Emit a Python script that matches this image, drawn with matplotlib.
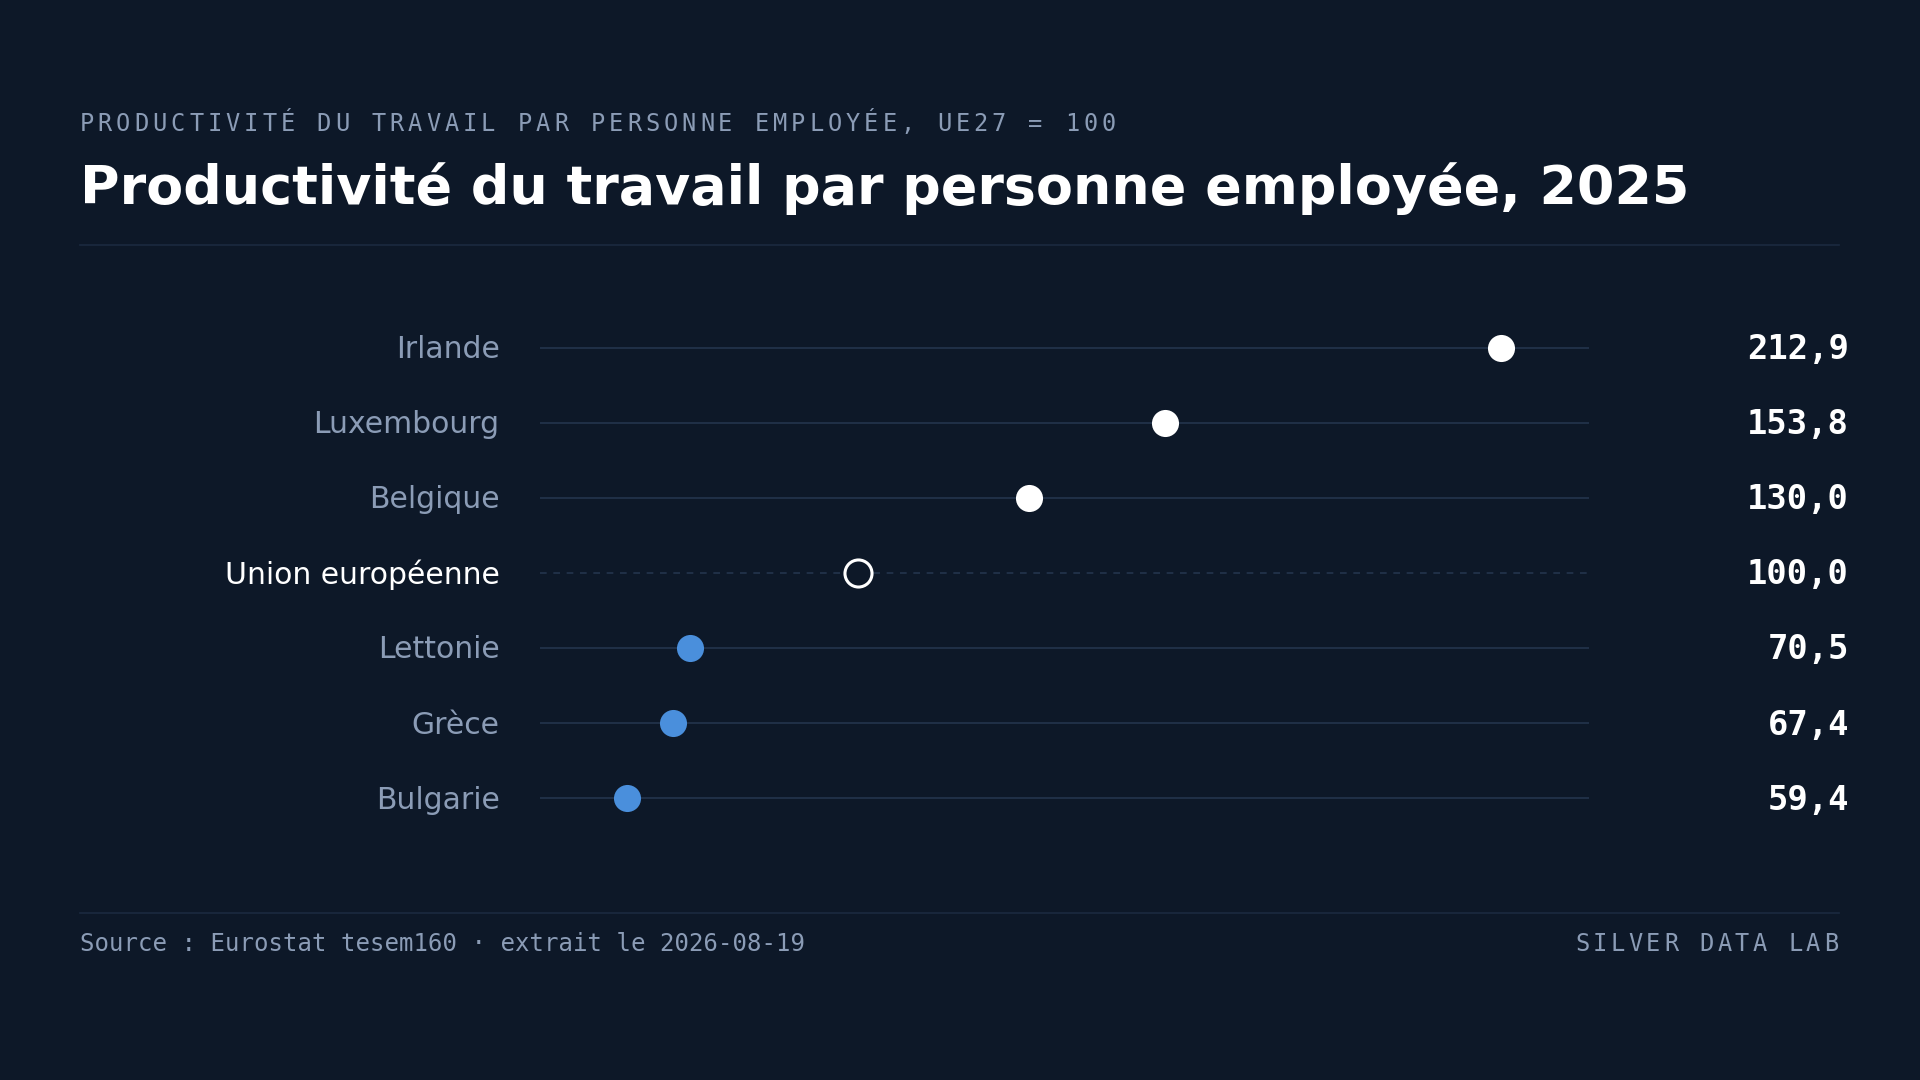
import matplotlib
matplotlib.use("Agg")
import matplotlib.pyplot as plt
from matplotlib.lines import Line2D

countries = ["Irlande", "Luxembourg", "Belgique", "Union européenne", "Lettonie", "Grèce", "Bulgarie"]
values = [212.9, 153.8, 130.0, 100.0, 70.5, 67.4, 59.4]
value_labels = ["212,9", "153,8", "130,0", "100,0", "70,5", "67,4", "59,4"]

BG = "#0d1828"
GRID = "#23344d"
MUTED = "#8b9cb6"
BLUE = "#4a8fdc"

W, H = 1568, 882
fig = plt.figure(figsize=(19.2, 10.8), dpi=100, facecolor=BG)
def fx(x): return x / W
def fy(y): return 1 - y / H

def spaced(text, x, y, step, align="left", **kw):
    nch = len(text)
    for i, ch in enumerate(text):
        if align == "left":
            xi = x + i * step
        else:
            xi = x - (nch - 1 - i) * step
        fig.text(fx(xi), fy(y), ch, ha="left" if align == "left" else "right",
                 va="center", **kw)

ax = fig.add_axes([fx(441), fy(682), fx(1298) - fx(441), fy(254) - fy(682)])
ax.set_facecolor(BG)
ax.set_xlim(44.1, 228.4)
n = len(countries)
ax.set_ylim(n - 0.5, -0.5)
ax.axis("off")

for i, (c, v, lab) in enumerate(zip(countries, values, value_labels)):
    eu = c == "Union européenne"
    ax.axhline(i, color=GRID, lw=1.2, ls=(0, (4, 4)) if eu else "-", zorder=1)
    if eu:
        ax.scatter([v], [i], s=380, facecolor=BG, edgecolor="white", lw=2.2, zorder=3)
    else:
        col = "white" if v > 100 else BLUE
        ax.scatter([v], [i], s=380, color=col, zorder=3, lw=0)
    yy = fy(285.5 + i * 61.33)
    fig.text(fx(408), yy, c, ha="right", va="center", fontsize=21.5,
             color="white" if eu else MUTED, family="DejaVu Sans")
    fig.text(fx(1510), yy, lab, ha="right", va="center", fontsize=24.4,
             color="white", weight="bold", family="DejaVu Sans Mono")

spaced("PRODUCTIVITÉ DU TRAVAIL PAR PERSONNE EMPLOYÉE, UE27 = 100", 65, 101.5, 14.9,
       fontsize=17, color=MUTED, family="DejaVu Sans Mono")
fig.text(fx(65), fy(154), "Productivité du travail par personne employée, 2025",
         ha="left", va="center", fontsize=38.8, color="white", weight="bold", family="DejaVu Sans")
fig.add_artist(Line2D([fx(65), fx(1502)], [fy(200), fy(200)], color="#1b2a3f", lw=1.2))
fig.add_artist(Line2D([fx(65), fx(1502)], [fy(746), fy(746)], color="#1b2a3f", lw=1.2))
fig.text(fx(65), fy(771), "Source : Eurostat tesem160 · extrait le 2026-08-19",
         ha="left", va="center", fontsize=17.3, color=MUTED, family="DejaVu Sans Mono")
spaced("SILVER DATA LAB", 1501, 771, 14.5, align="right",
       fontsize=17, color=MUTED, family="DejaVu Sans Mono")

fig.savefig("out.png", dpi=100, facecolor=BG)
